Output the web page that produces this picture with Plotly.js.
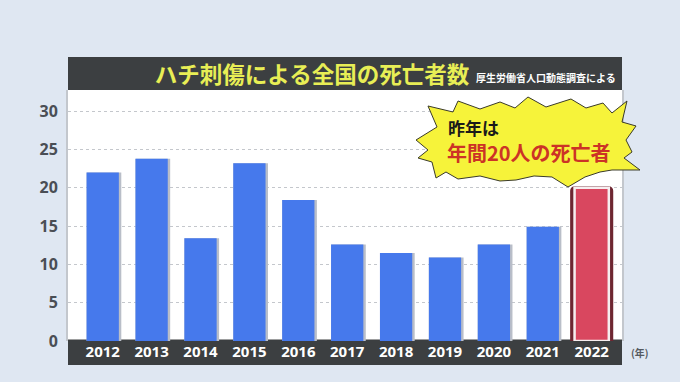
<!DOCTYPE html>
<html><head><meta charset="utf-8">
<script src="https://cdn.plot.ly/plotly-3.0.1.min.js"></script>
<style>html,body{margin:0;padding:0;background:#dfe7f2;}#chart{width:680px;height:382px;}</style>
</head><body><div id="chart"></div>
<script>
// ---- data ----
const years = ['2012','2013','2014','2015','2016','2017','2018','2019','2020','2021','2022'];
const deaths = [22, 23.8, 13.4, 23.2, 18.4, 12.6, 11.5, 10.9, 12.6, 14.9, 20];
const highlightYear = '2022';
const yTicks = [0, 5, 10, 15, 20, 25, 30];
const titleText = 'ハチ刺傷による全国の死亡者数';
const sourceText = '厚生労働省人口動態調査による';
const calloutLine1 = '昨年は';
const calloutLine2 = '年間20人の死亡者';
const unitText = '(年)';

// ---- layout geometry ----
const W = 680, H = 382;
const M = {l: 68, r: 58, t: 90, b: 41};
const PW = W - M.l - M.r, PH = H - M.t - M.b;
const px = (x) => (x - M.l) / PW;
const py = (y) => (H - M.b - y) / PH;

const blueX = [], blueY = [], redX = [], redY = [];
years.forEach((yr, i) => {
  if (yr === highlightYear) { redX.push(yr); redY.push(deaths[i]); }
  else { blueX.push(yr); blueY.push(deaths[i]); }
});

const jpFont = '"Noto Sans CJK JP", "Noto Sans", sans-serif';
const numFont = '"Noto Sans", "Open Sans", sans-serif';

const traces = [
  {type:'bar', x: blueX, y: blueY, width: 0.71, offset: -0.33,
   marker:{color:'#b9bec8', line:{width:0}}, hoverinfo:'skip'},
  {type:'bar', x: blueX, y: blueY, width: 0.66, offset: -0.33,
   marker:{color:'#4679ec', line:{width:0}}, hoverinfo:'skip'},
  {type:'bar', x: redX, y: redY, width: 0.82, offset: -0.41,
   marker:{color:'#6e2631', line:{color:'#6e2631', width:3}, cornerradius: 3}, hoverinfo:'skip'},
  {type:'bar', x: redX, y: redY, width: 0.70, offset: -0.35,
   marker:{color:'#d9475f', line:{color:'#f6eef0', width:2.5}}, hoverinfo:'skip'}
];

// starburst outline (pixel coords -> paper)
const burst = [[416,140],[437,127],[428,106],[453,112],[458,101],[480,109],[500,102],[515,108],[528,97],[546,107],[571,99],[586,108],[603,103],[612,113],[627,101],[622,122],[636,126],[626,140],[632,152],[624,158],[640,170],[612,170],[600,172],[585,177],[568,187],[552,177],[534,176],[516,180],[500,181],[480,176],[458,179],[446,172],[436,178],[432,162],[418,158],[428,150]];
const burstPath = burst.map((p, i) => (i ? 'L' : 'M') + px(p[0]).toFixed(4) + ',' + py(p[1]).toFixed(4)).join(' ') + ' Z';

const layout = {
  width: W, height: H,
  margin: M,
  paper_bgcolor: '#dfe7f2',
  plot_bgcolor: '#ffffff',
  showlegend: false,
  barmode: 'overlay',
  title: {
    text: titleText,
    font: {family: jpFont, size: 22.5, color: '#e8ee55', weight: 'bold'},
    x: 312 / W, xanchor: 'center', xref: 'container',
    y: 1 - 75 / H, yanchor: 'middle', yref: 'container'
  },
  xaxis: {
    type: 'category', categoryorder: 'array', categoryarray: years,
    range: [-0.71, 10.62], fixedrange: true,
    showgrid: false, zeroline: false, showline: false, ticks: '',
    tickfont: {family: numFont, size: 15, color: '#ffffff', weight: 'bold'}
  },
  yaxis: {
    range: [0, PH / 7.66], fixedrange: true,
    tickvals: yTicks, ticktext: yTicks.map(String),
    showgrid: true, gridcolor: '#c4c7cc', griddash: 'dot', gridwidth: 1,
    zeroline: false, showline: true, linecolor: '#c3c7cd', linewidth: 2, mirror: true,
    ticks: '', ticklabelstandoff: 5,
    tickfont: {family: numFont, size: 16, color: '#4a4e55', weight: 'bold'}
  },
  shapes: [
    {type:'rect', xref:'paper', yref:'paper', layer:'below',
     x0: 0, x1: 1, y0: py(365), y1: py(339.5), fillcolor:'#3c3f41', line:{width:0}},
    {type:'rect', xref:'paper', yref:'paper', layer:'below',
     x0: 0, x1: 1, y0: py(90), y1: py(57), fillcolor:'#3c3f41', line:{width:0}},
    {type:'path', xref:'paper', yref:'paper', layer:'above',
     path: burstPath, fillcolor:'#f6f33a', line:{color:'#3a3a2a', width:1}}
  ],
  annotations: [
    {text: sourceText, xref:'paper', yref:'paper', x: px(474), y: py(77), xanchor:'left', yanchor:'middle',
     showarrow:false, font:{family: jpFont, size: 10, color:'#ffffff', weight:'bold'}},
    {text: calloutLine1, xref:'paper', yref:'paper', x: px(446), y: py(127), xanchor:'left', yanchor:'middle',
     showarrow:false, font:{family: jpFont, size: 17, color:'#1a1a1a', weight:'bold'}},
    {text: calloutLine2, xref:'paper', yref:'paper', x: px(445), y: py(152), xanchor:'left', yanchor:'middle',
     showarrow:false, font:{family: jpFont, size: 20, color:'#cc3326', weight:'bold'}},
    {text: unitText, xref:'paper', yref:'paper', x: px(640), y: py(352), xanchor:'center', yanchor:'middle',
     showarrow:false, font:{family: jpFont, size: 10, color:'#555a60', weight:'bold'}}
  ]
};

Plotly.newPlot('chart', traces, layout, {staticPlot: true, displayModeBar: false});
</script></body></html>
